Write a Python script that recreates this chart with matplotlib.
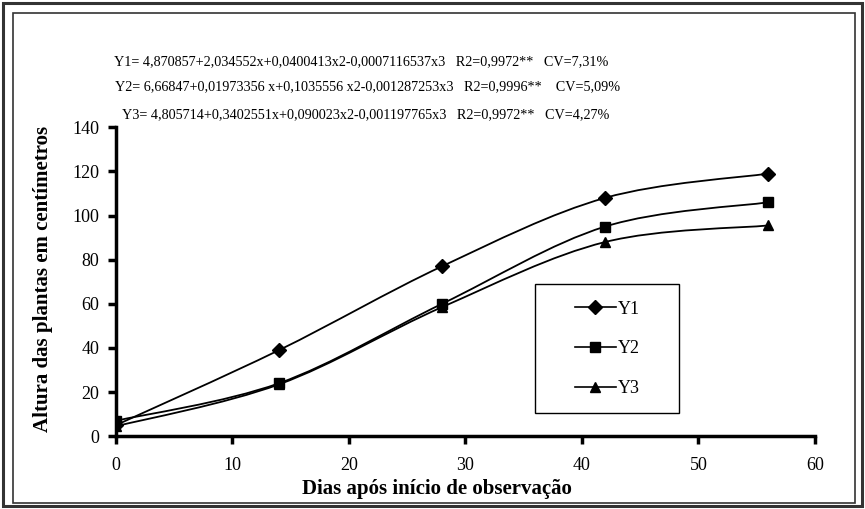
import numpy as np
import matplotlib.pyplot as plt
from matplotlib.path import Path
from matplotlib.patches import PathPatch, Rectangle

plt.rcParams['font.family'] = ['Liberation Serif', 'DejaVu Serif']

dias = [0, 14, 28, 42, 56]
y1 = [5, 39, 77, 108, 119]
y2 = [7, 24, 60, 95, 106]
y3 = [4.5, 23.5, 58.5, 88, 95.5]
series = ['Y1', 'Y2', 'Y3']
markers = ['D', 's', '^']

equacoes = [
    'Y1= 4,870857+2,034552x+0,0400413x2-0,0007116537x3   R2=0,9972**   CV=7,31%',
    'Y2= 6,66847+0,01973356 x+0,1035556 x2-0,001287253x3   R2=0,9996**    CV=5,09%',
    'Y3= 4,805714+0,3402551x+0,090023x2-0,001197765x3   R2=0,9972**   CV=4,27%',
]


def smooth_path(x, y):
    # curva suavizada tipo Excel (Bezier cubica)
    p = np.column_stack([x, y]).astype(float)
    n = len(p)
    verts = [p[0]]
    codes = [Path.MOVETO]
    for i in range(n - 1):
        p0 = p[i - 1] if i > 0 else p[i]
        p3 = p[i + 2] if i + 2 < n else p[i + 1]
        c1 = p[i] + (p[i + 1] - p0) / 6
        c2 = p[i + 1] - (p3 - p[i]) / 6
        verts += [c1, c2, p[i + 1]]
        codes += [Path.CURVE4] * 3
    return Path(verts, codes)


fig = plt.figure(figsize=(8.65, 5.09), dpi=100)
ax = fig.add_axes([0.134, 0.143, 0.808, 0.607])

for nome, ys, m in zip(series, [y1, y2, y3], markers):
    ms = 6.5 if m == 's' else 7
    ax.add_patch(PathPatch(smooth_path(dias, ys), fill=False, lw=1.3, ec='black'))
    ax.plot(dias, ys, ls='none', marker=m, color='black', ms=ms)
    ax.plot([], [], '-', marker=m, color='black', lw=1.2, ms=ms, label=nome)

ax.set_xlim(0, 60)
ax.set_ylim(0, 140)
ax.set_xticks(range(0, 61, 10))
ax.set_yticks(range(0, 141, 20))
for s in ['top', 'right']:
    ax.spines[s].set_visible(False)
ax.spines['left'].set_linewidth(2.5)
ax.spines['bottom'].set_linewidth(2.5)
ax.tick_params(direction='out', length=6, width=2.5, labelsize=13)
ax.tick_params(axis='x', pad=9)
ax.tick_params(axis='y', pad=6)

ax.set_xlabel('Dias após início de observação', fontsize=15, fontweight='bold', va='center')
ax.xaxis.set_label_coords(0.459, -0.17)
ax.set_ylabel('Altura das plantas em centímetros', fontsize=15, fontweight='bold', va='center')
ax.yaxis.set_label_coords(-0.105, 0.51)

# caixa da legenda
ax.add_patch(Rectangle((0.6, 0.074), 0.206, 0.418, transform=ax.transAxes,
                       fill=False, lw=1.0, ec='black'))
leg = ax.legend(loc='center', bbox_to_anchor=(0.6, 0.074, 0.206, 0.418),
                frameon=False, fontsize=13, handlelength=2.3, labelspacing=1.25,
                handletextpad=0.1, borderaxespad=0)

ys_eq = [0.872, 0.823, 0.768]
xs_eq = [0.418, 0.425, 0.423]
for t, xe, ye in zip(equacoes, xs_eq, ys_eq):
    fig.text(xe, ye, t, fontsize=10.2, ha='center', va='baseline')

# moldura dupla
fig.patches.append(Rectangle((0.004, 0.005), 0.992, 0.989, transform=fig.transFigure,
                             fill=False, lw=2.2, ec='#333333'))
fig.patches.append(Rectangle((0.015, 0.012), 0.974, 0.962, transform=fig.transFigure,
                             fill=False, lw=1.2, ec='#333333'))

plt.savefig('out.png', dpi=100)
